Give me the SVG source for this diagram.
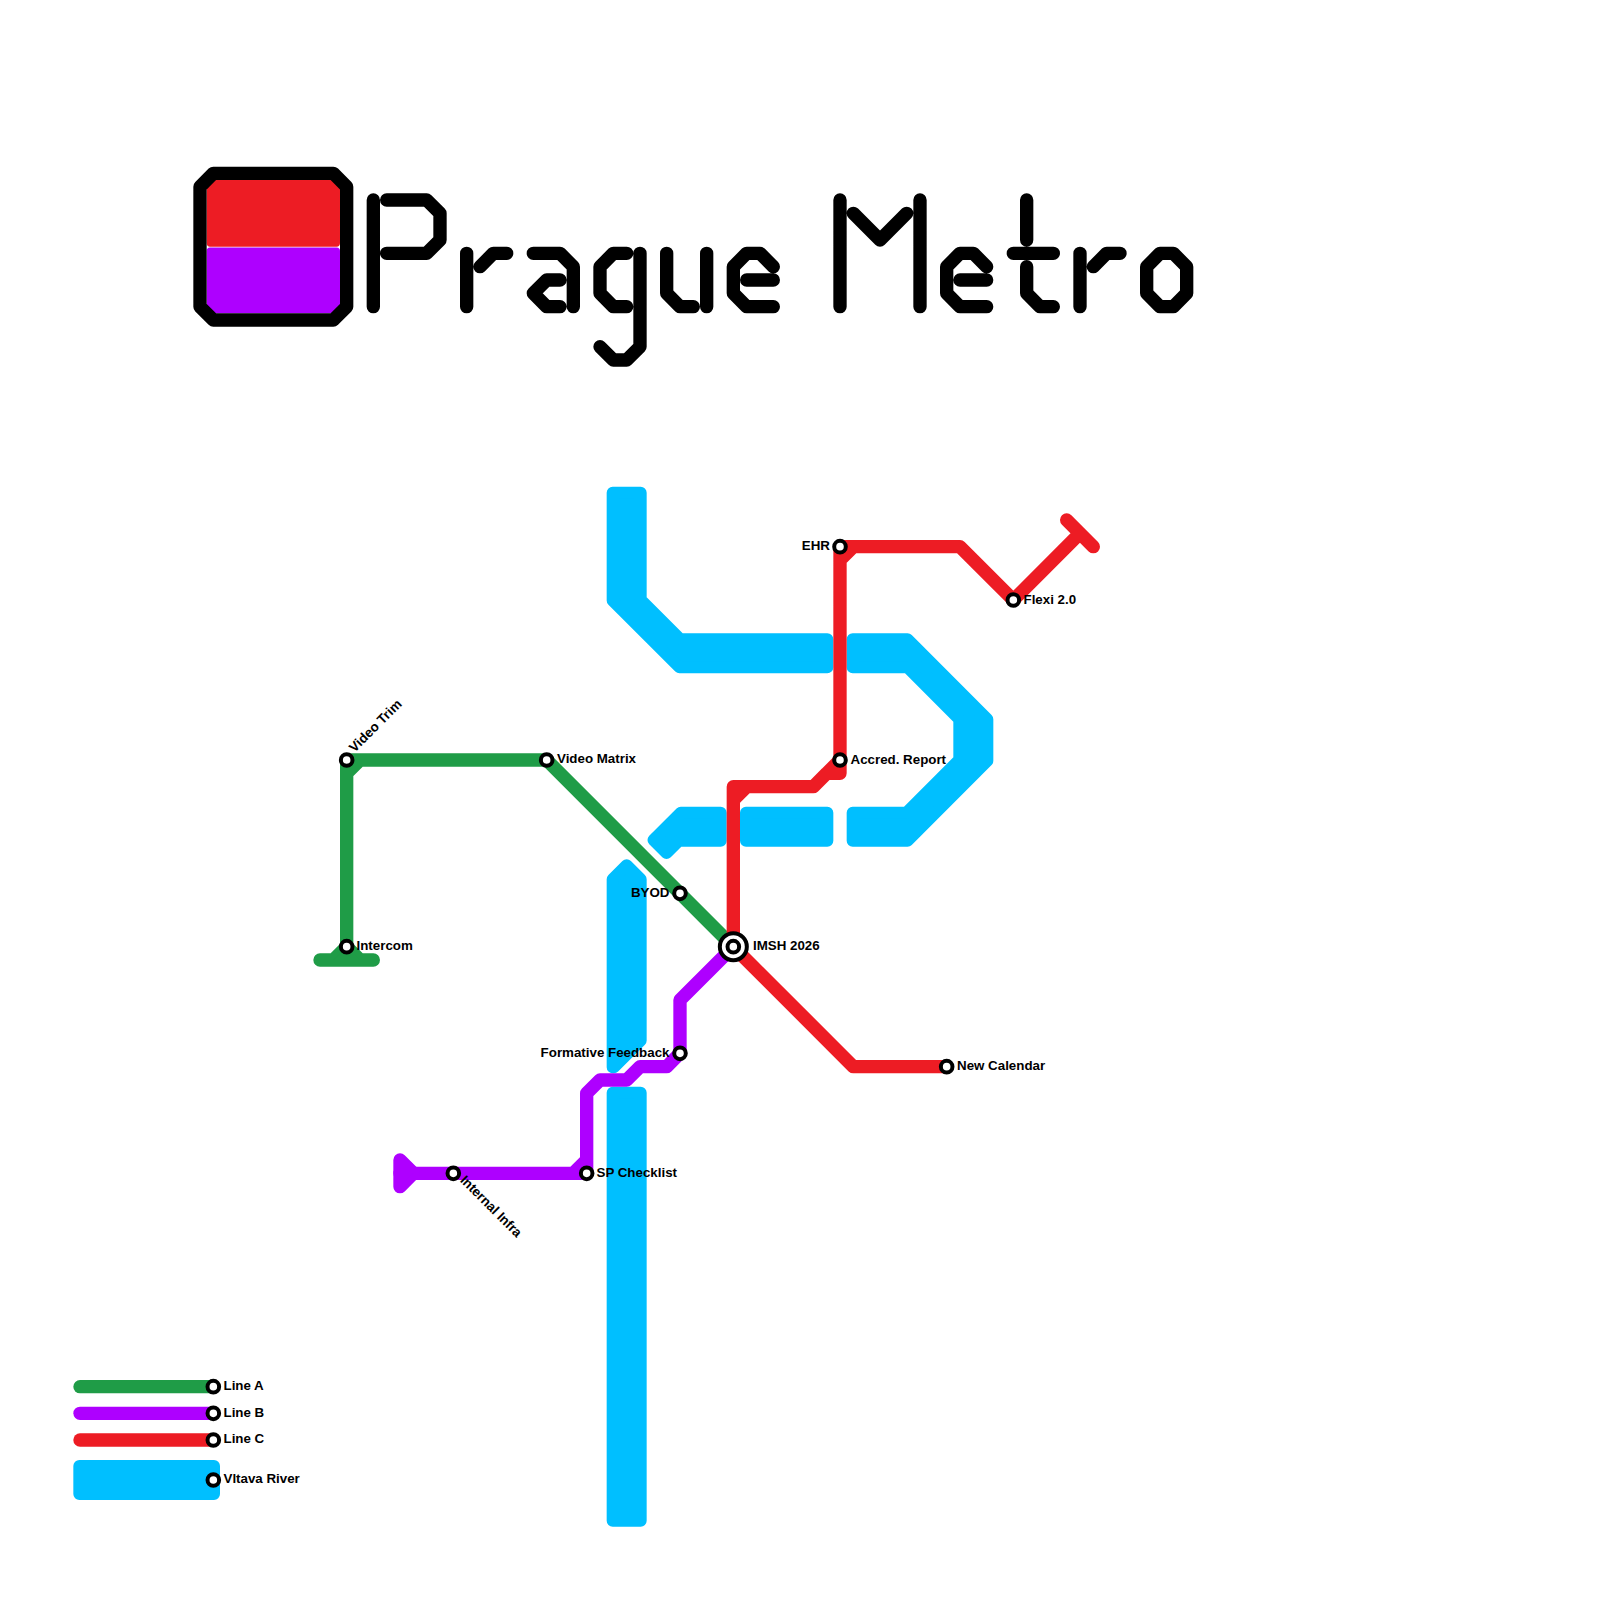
<svg xmlns="http://www.w3.org/2000/svg" width="1600" height="1600" viewBox="0 0 1600 1600">
<style>
.river{fill:#00bfff;stroke:#00bfff;stroke-width:12;stroke-linejoin:round}
.line{fill:none;stroke-width:13.33;stroke-linecap:round;stroke-linejoin:round}
.a{stroke:#1f9c47}
.b{stroke:#ae00ff}
.c{stroke:#ed1c24}
.k{stroke:#000}
.st{fill:#fff;stroke:#000;stroke-width:4}
text{font-family:"Liberation Sans",Arial,sans-serif;font-size:13.33px;font-weight:700;fill:#000}
.e{text-anchor:end}
</style>
<rect width="1600" height="1600" fill="#fff"/>
<g id="logo">
<path fill="#ed1c24" d="M206.67 186.67L213.33 180H333.33L340 186.67V243Q340 246.67 336.5 246.67H210Q206.67 246.67 206.67 243Z"/>
<path fill="#ae00ff" d="M210 247.4H336.5Q340 247.4 340 251V306.67L333.33 313.33H213.33L206.67 306.67V251Q206.67 247.4 210 247.4Z"/>
<path class="line k" d="M200 186.67L213.33 173.33H333.33L346.67 186.67V306.67L333.33 320H213.33L200 306.67Z"/>
</g>
<g id="title">
<path class="line k" d="M373.33 200V306.67M386.67 200H426.67L440 213.33V240L426.67 253.33H386.67"/>
<path class="line k" d="M466.67 253.33V306.67M480 266.67L493.33 253.33H506.67"/>
<path class="line k" d="M533.33 253.33H560L573.33 266.67V306.67M560 280H546.67L533.33 293.33L546.67 306.67H560"/>
<path class="line k" d="M626.67 253.33H613.33L600 266.67V293.33L613.33 306.67H626.67M640 253.33V346.67L626.67 360H613.33L600 346.67"/>
<path class="line k" d="M666.67 253.33V293.33L680 306.67H693.33M706.67 253.33V306.67"/>
<path class="line k" d="M773.33 266.67L760 253.33H746.67L733.33 266.67V293.33L746.67 306.67H773.33M746.67 280H773.33"/>
<path class="line k" d="M840 200V306.67M920 200V306.67M853.33 213.33L880 240L906.67 213.33"/>
<path class="line k" d="M986.67 266.67L973.33 253.33H960L946.67 266.67V293.33L960 306.67H986.67M960 280H986.67"/>
<path class="line k" d="M1026.67 200V240M1013.33 253.33H1053.33M1026.67 266.67V293.33L1040 306.67H1053.33"/>
<path class="line k" d="M1080 253.33V306.67M1093.33 266.67L1106.67 253.33H1120"/>
<path class="line k" d="M1160 253.33H1173.33L1186.67 266.67V293.33L1173.33 306.67H1160L1146.67 293.33V266.67Z"/>
</g>
<g id="river">
<path class="river" d="M612.67 492.67H640.67V599.82L680.18 639.33H827.33V667.33H679.5L612.67 600.47Z"/>
<path class="river" d="M852.67 639.33H907.51L987.33 719.15V760.85L907.51 840.67H852.67V812.67H906.49L959.33 759.83V719.17L907.49 667.33H852.67Z"/>
<path class="river" d="M680.8 812.67H720.67V840.67H678.83L666.5 853L653.5 840Z"/>
<path class="river" d="M746 812.67H827.33V840.67H746Z"/>
<path class="river" d="M626.67 865.3L640.67 879.3V1040.5L613.9 1067.3H612.67V879.3Z"/>
<path class="river" d="M612.67 1092.67H640.67V1520.67H612.67Z"/>
<path class="river" d="M79.33 1466H214V1494H79.33Z"/>
</g>
<g id="connectors">
<path class="line a" d="M346.67 946.67V760H546.67L733.33 946.67M346.67 773.33L360 760"/>
<path class="line a" d="M320 960H373.33M333.33 960L346.67 946.67L360 960"/>
<path fill="#1f9c47" d="M333.33 960L346.67 946.67L360 960Z"/>
<path class="line b" d="M733.33 946.67L680 1000V1053.33L666.67 1066.67H640L626.67 1080H600L586.67 1093.33V1173.33H400M573.33 1173.33L586.67 1160"/>
<path class="line b" d="M400 1160V1186.67M400 1160L413.33 1173.33L400 1186.67"/>
<path fill="#ae00ff" d="M400 1160L413.33 1173.33L400 1186.67Z"/>
<path class="line c" d="M733.33 946.67V786.67H813.33L840 760M733.33 800L746.67 786.67M813.33 786.67L826.67 773.33H840M840 773.33V546.67H960L1013.33 600L1080 533.33M1066.67 520L1093.33 546.67M840 560L853.33 546.67"/>
<path class="line c" d="M733.33 946.67L853.33 1066.67H946.67"/>
<path class="line a" d="M80 1386.67H213.33"/>
<path class="line b" d="M80 1413.33H213.33"/>
<path class="line c" d="M80 1440H213.33"/>
</g>
<g id="st-video-trim"><circle class="st" cx="346.67" cy="760" r="5.8"/><text transform="translate(354.5 753) rotate(-45)">Video Trim</text></g>
<g id="st-video-matrix"><circle class="st" cx="546.67" cy="760" r="5.8"/><text x="557" y="763">Video Matrix</text></g>
<g id="st-intercom"><circle class="st" cx="346.67" cy="946.67" r="5.8"/><text x="356.5" y="950">Intercom</text></g>
<g id="st-byod"><circle class="st" cx="680" cy="893.33" r="5.8"/><text class="e" x="669.5" y="896.5">BYOD</text></g>
<g id="st-imsh"><circle class="st" cx="733.33" cy="946.67" r="13.5"/><circle class="st" cx="733.33" cy="946.67" r="5.8"/><text x="753" y="950">IMSH 2026</text></g>
<g id="st-formative"><circle class="st" cx="680" cy="1053.33" r="5.8"/><text class="e" x="669.5" y="1056.5">Formative Feedback</text></g>
<g id="st-sp"><circle class="st" cx="586.67" cy="1173.33" r="5.8"/><text x="596.5" y="1176.5">SP Checklist</text></g>
<g id="st-internal"><circle class="st" cx="453.33" cy="1173.33" r="5.8"/><text transform="translate(459.5 1181) rotate(45)">Internal Infra</text></g>
<g id="st-ehr"><circle class="st" cx="840" cy="546.67" r="5.8"/><text class="e" x="830" y="550">EHR</text></g>
<g id="st-flexi"><circle class="st" cx="1013.33" cy="600" r="5.8"/><text x="1023.5" y="603.5">Flexi 2.0</text></g>
<g id="st-accred"><circle class="st" cx="840" cy="760" r="5.8"/><text x="850.5" y="763.5">Accred. Report</text></g>
<g id="st-calendar"><circle class="st" cx="946.67" cy="1066.67" r="5.8"/><text x="957" y="1070">New Calendar</text></g>
<g id="legend-a"><circle class="st" cx="213.33" cy="1386.67" r="5.8"/><text x="223.5" y="1390">Line A</text></g>
<g id="legend-b"><circle class="st" cx="213.33" cy="1413.33" r="5.8"/><text x="223.5" y="1416.5">Line B</text></g>
<g id="legend-c"><circle class="st" cx="213.33" cy="1440" r="5.8"/><text x="223.5" y="1443">Line C</text></g>
<g id="legend-river"><circle class="st" cx="213.33" cy="1480" r="5.8"/><text x="223.5" y="1483">Vltava River</text></g>
</svg>
